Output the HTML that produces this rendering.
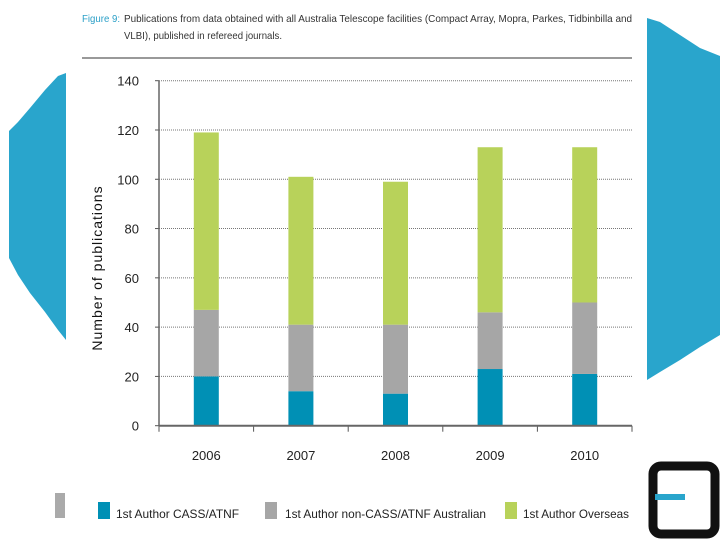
<!DOCTYPE html>
<html><head><meta charset="utf-8"><style>
body{margin:0;width:720px;height:540px;background:#fff;overflow:hidden;font-family:"Liberation Sans",sans-serif}
svg{display:block}
</style></head><body>
<svg width="720" height="540" xmlns="http://www.w3.org/2000/svg">
<polygon points="66,73 58,76 45,90 30,108 18,122 9,131 9,258 18,275 30,293 45,312 58,330 66,340" fill="#29a5cc"/>
<polygon points="647,18 660,22 680,35 700,48 720,56 720,335 700,347 680,360 660,372 647,380" fill="#29a5cc"/>
<rect x="55" y="493" width="10" height="25" fill="#aaa"/>
<rect x="653" y="466" width="62" height="68" rx="8" fill="none" stroke="#111" stroke-width="9"/>
<rect x="655" y="494" width="30" height="6" fill="#29a5cc"/>
<text x="82" y="22" font-size="10.5" fill="#2a9fc7" textLength="38" lengthAdjust="spacingAndGlyphs">Figure 9:</text>
<text x="124" y="22" font-size="10.5" fill="#333" textLength="508" lengthAdjust="spacingAndGlyphs">Publications from data obtained with all Australia Telescope facilities (Compact Array, Mopra, Parkes, Tidbinbilla and</text>
<text x="124" y="39" font-size="10.5" fill="#333" textLength="158" lengthAdjust="spacingAndGlyphs">VLBI), published in refereed journals.</text>
<line x1="82" y1="58" x2="632" y2="58" stroke="#999" stroke-width="2"/>
<g id="plot"></g>
<text transform="translate(102,268) rotate(-90)" text-anchor="middle" font-size="14" fill="#111" letter-spacing="1">Number of publications</text>
</svg>
<script>
const categories=["2006","2007","2008","2009","2010"];
const cassAtnf=[20,14,13,23,21];
const nonCassAus=[27,27,28,23,29];
const overseas=[72,60,58,67,63];
const yTicks=[0,20,40,60,80,100,120,140];
const seriesNames=["1st Author CASS/ATNF","1st Author non-CASS/ATNF Australian","1st Author Overseas"];
const colors=["#0090b5","#a6a6a6","#b8d25a"];
const NS="http://www.w3.org/2000/svg";
const g=document.getElementById('plot');
const x0=159,x1=632,y0=425.7,yTop=80.7,ymax=140;
const yS=v=>y0-(v/ymax)*(y0-yTop);
const bw=(x1-x0)/categories.length;
const xC=i=>x0+bw*(i+0.5);
function mk(t,a){const e=document.createElementNS(NS,t);for(const k in a)e.setAttribute(k,a[k]);g.appendChild(e);return e;}
yTicks.forEach(v=>{
 if(v>0){const l=mk('line',{x1:x0,x2:x1,y1:yS(v),y2:yS(v),stroke:'#777','stroke-dasharray':'1,1','stroke-width':1});
 
 }
 const tk=mk('line',{x1:x0-4,x2:x0,y1:yS(v),y2:yS(v),stroke:'#555'});
 
 
 const t=mk('text',{x:x0-20,y:yS(v)+5,'text-anchor':'end','font-size':13,fill:'#222'});
 t.textContent=v;
 
 
});
const series=[cassAtnf,nonCassAus,overseas];
categories.forEach((c,i)=>{
 let base=0;
 series.forEach((s,j)=>{
  const r=mk('rect',{x:xC(i)-12.5,width:25,y:yS(base+s[i]),height:yS(base)-yS(base+s[i]),fill:colors[j]});
  
  
  base+=s[i];
 });
 const t=mk('text',{x:xC(i),y:460,'text-anchor':'middle','font-size':13,fill:'#222'});
 t.textContent=c;
 
 
});
for(let i=0;i<=categories.length;i++){
 const tk=mk('line',{x1:x0+bw*i,x2:x0+bw*i,y1:y0,y2:y0+6,stroke:'#555'});
 
 
}
const ax=mk('line',{x1:x0,x2:x1,y1:y0,y2:y0,stroke:'#666','stroke-width':2});


const ay=mk('line',{x1:x0,x2:x0,y1:yTop,y2:y0,stroke:'#666','stroke-width':1.5});


const lx=[98,265,505],tx=[116,285,523],lw=[123,201,106];
seriesNames.forEach((n,j)=>{
 const r=mk('rect',{x:lx[j],y:502,width:12,height:17,fill:colors[j]});
 
 
 const t=mk('text',{x:tx[j],y:518,'font-size':12,fill:'#222',textLength:lw[j],lengthAdjust:'spacingAndGlyphs'});
 t.textContent=n;
 
 
});
</script>
</body></html>
